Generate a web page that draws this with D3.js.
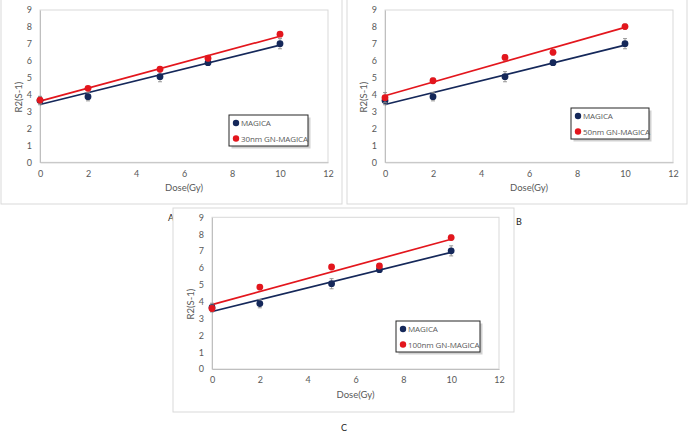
<!DOCTYPE html>
<html><head><meta charset="utf-8">
<script src="https://cdn.jsdelivr.net/npm/d3@7"></script>
<style>body{margin:0;background:#fff}svg{display:block;font-family:Lato,"Open Sans",sans-serif}</style>
</head><body><svg id="c" width="688" height="433"></svg>
<script>
const doses = [0, 2, 5, 7, 10];
const magica = [3.65, 3.88, 5.06, 5.89, 7.01];
const magicaErr = [0.25, 0.25, 0.3, 0.15, 0.3];
const gn30 = [3.68, 4.37, 5.5, 6.15, 7.57];
const gn30Err = [0.2, 0.1, 0.1, 0.15, 0.1];
const gn50 = [3.82, 4.82, 6.2, 6.5, 8.02];
const gn50Err = [0.3, 0.15, 0.15, 0.15, 0.15];
const gn100 = [3.59, 4.86, 6.05, 6.11, 7.8];
const gn100Err = [0.2, 0.15, 0.1, 0.1, 0.15];
const xTicks = [0, 2, 4, 6, 8, 10, 12];
const yTicks = [0, 1, 2, 3, 4, 5, 6, 7, 8, 9];
const seriesNames = ["MAGICA", "30nm GN-MAGICA", "50nm GN-MAGICA", "100nm GN-MAGICA"];
const panelLetters = ["A", "B", "C"];

const NAVY = "#15285a", RED = "#e3161d", TXT = "#595959", AX = "#bfbfbf";
const svg = d3.select("#c");

function fit(xs, ys) {
  const mx = d3.mean(xs), my = d3.mean(ys);
  const sxy = d3.sum(xs, (x, i) => (x - mx) * (ys[i] - my));
  const sxx = d3.sum(xs, x => (x - mx) * (x - mx));
  const b = sxy / sxx;
  return { b, a: my - b * mx };
}

function panel(box, plot, red, redErr, redName, legend, labels) {
  const g = svg.append("g");
  g.append("rect").attr("x", box[0]).attr("y", box[1]).attr("width", box[2]).attr("height", box[3])
    .attr("fill", "#fff").attr("stroke", "#d9d9d9").attr("stroke-width", 1);
  const x = d3.scaleLinear().domain([0, 12]).range([plot.l, plot.r]);
  const y = d3.scaleLinear().domain([0, 9]).range([plot.b, plot.t]);
  g.append("rect").attr("x", plot.l).attr("y", plot.t).attr("width", plot.r - plot.l).attr("height", plot.b - plot.t)
    .attr("fill", "none").attr("stroke", "#d9d9d9");
  const xa = g.append("g").attr("transform", `translate(0,${plot.b})`)
    .call(d3.axisBottom(x).tickValues(xTicks).tickSize(0).tickPadding(8));
  const ya = g.append("g").attr("transform", `translate(${plot.l},0)`)
    .call(d3.axisLeft(y).tickValues(yTicks).tickSize(0).tickPadding(8));
  [xa, ya].forEach(a => {
    a.select(".domain").attr("stroke", AX);
    a.selectAll("text").attr("fill", TXT).attr("font-size", 9).attr("font-family", "Lato,'Open Sans',sans-serif");
  });
  g.append("text").attr("x", (plot.l + plot.r) / 2).attr("y", plot.b + 29).attr("text-anchor", "middle")
    .attr("fill", TXT).attr("font-size", 9.5).text(labels[0]);
  const ly = (plot.t + plot.b) / 2 + 11;
  g.append("text").attr("transform", `translate(${plot.l - 18},${ly}) rotate(-90)`).attr("text-anchor", "middle")
    .attr("fill", TXT).attr("font-size", 9.5).text(labels[1]);

  const series = [[magica, magicaErr, NAVY], [red, redErr, RED]];
  series.forEach(([vals, err, col]) => {
    const f = fit(doses, vals);
    g.append("line").attr("x1", x(0)).attr("x2", x(10)).attr("y1", y(f.a)).attr("y2", y(f.a + f.b * 10))
      .attr("stroke", col).attr("stroke-width", 1.7);
  });
  series.forEach(([vals, err, col]) => {
    doses.forEach((d, i) => {
      const cx = x(d);
      g.append("line").attr("x1", cx).attr("x2", cx).attr("y1", y(vals[i] - err[i])).attr("y2", y(vals[i] + err[i]))
        .attr("stroke", "#8c8c8c").attr("stroke-width", 0.9);
      [vals[i] - err[i], vals[i] + err[i]].forEach(v =>
        g.append("line").attr("x1", cx - 2).attr("x2", cx + 2).attr("y1", y(v)).attr("y2", y(v))
          .attr("stroke", "#8c8c8c").attr("stroke-width", 0.9));
      g.append("circle").attr("cx", cx).attr("cy", y(vals[i])).attr("r", 3.4).attr("fill", col);
    });
  });
  const [lx, lyy, lw, lh] = legend;
  g.append("rect").attr("x", lx + 2.5).attr("y", lyy + 2.5).attr("width", lw).attr("height", lh).attr("fill", "#bdbdbd").attr("opacity", 0.7);
  g.append("rect").attr("x", lx).attr("y", lyy).attr("width", lw).attr("height", lh).attr("fill", "#fff")
    .attr("stroke", "#262626").attr("stroke-width", 1);
  [[seriesNames[0], NAVY], [redName, RED]].forEach(([nm, col], k) => {
    const yy = lyy + 8 + k * 15.5;
    g.append("circle").attr("cx", lx + 7).attr("cy", yy).attr("r", 3.2).attr("fill", col);
    g.append("text").attr("x", lx + 12).attr("y", yy + 3).attr("fill", TXT).attr("font-size", 8)
      .attr("font-family", "'Open Sans',sans-serif").attr("letter-spacing", -0.1).text(nm);
  });
  return g;
}

const lab = ["Dose(Gy)", "R2(S-1)"];
panel([1, -1, 341, 205], { l: 40, r: 328, t: 10, b: 162.3 }, gn30, gn30Err, seriesNames[1], [229, 115, 79, 31], lab);
panel([347, -1, 340, 205], { l: 385, r: 673, t: 10, b: 162.3 }, gn50, gn50Err, seriesNames[2], [571, 108, 78, 31], lab);
svg.append("text").attr("x", 174).attr("y", 221).attr("text-anchor", "end").attr("fill", "#222").attr("font-size", 9).text(panelLetters[0]);
svg.append("text").attr("x", 516).attr("y", 225).attr("fill", "#222").attr("font-size", 9).text(panelLetters[1]);
panel([173, 208, 341, 204], { l: 212, r: 499, t: 217.3, b: 369 }, gn100, gn100Err, seriesNames[3], [396, 321, 84, 31], lab);
svg.append("text").attr("x", 344).attr("y", 431).attr("text-anchor", "middle").attr("fill", "#222").attr("font-size", 9).text(panelLetters[2]);
</script></body></html>
